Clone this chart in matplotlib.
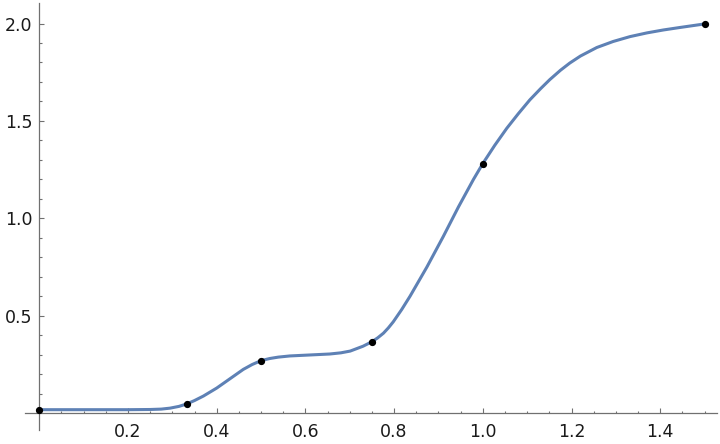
import matplotlib
matplotlib.use("Agg")
import matplotlib.pyplot as plt

# Data points (black dots)
point_x = [0.0, 1/3, 0.5, 0.75, 1.0, 1.5]
point_y = [0.017, 0.047, 0.269, 0.366, 1.281, 1.998]

# Curve samples
curve_x = [0.0, 0.10, 0.20, 0.25, 0.275, 0.295, 0.315, 0.333, 0.350, 0.370,
           0.400, 0.430, 0.460, 0.480, 0.500, 0.520, 0.539, 0.565, 0.610,
           0.655, 0.680, 0.701, 0.730, 0.750, 0.763, 0.776, 0.787, 0.798,
           0.817, 0.836, 0.874, 0.911, 0.945, 0.979, 1.000, 1.027, 1.054,
           1.080, 1.106, 1.130, 1.151, 1.175, 1.196, 1.220, 1.257, 1.294,
           1.332, 1.370, 1.407, 1.445, 1.500]
curve_y = [0.017, 0.017, 0.017, 0.018, 0.020, 0.025, 0.034, 0.047, 0.064, 0.087,
           0.128, 0.176, 0.224, 0.249, 0.269, 0.280, 0.287, 0.293, 0.298,
           0.303, 0.309, 0.318, 0.343, 0.366, 0.386, 0.410, 0.437, 0.468,
           0.531, 0.600, 0.750, 0.907, 1.058, 1.200, 1.281, 1.375, 1.462,
           1.537, 1.608, 1.665, 1.712, 1.760, 1.797, 1.833, 1.877, 1.908,
           1.933, 1.952, 1.967, 1.980, 1.998]

x_major = [0.2, 0.4, 0.6, 0.8, 1.0, 1.2, 1.4]
x_labels = ["0.2", "0.4", "0.6", "0.8", "1.0", "1.2", "1.4"]
y_major = [0.5, 1.0, 1.5, 2.0]
y_labels = ["0.5", "1.0", "1.5", "2.0"]
x_minor = [0.05, 0.1, 0.15, 0.25, 0.3, 0.35, 0.45, 0.5, 0.55, 0.65, 0.7, 0.75,
           0.85, 0.9, 0.95, 1.05, 1.1, 1.15, 1.25, 1.3, 1.35, 1.45, 1.5]
y_minor = [0.1, 0.2, 0.3, 0.4, 0.6, 0.7, 0.8, 0.9, 1.1, 1.2, 1.3, 1.4,
           1.6, 1.7, 1.8, 1.9]

fig = plt.figure(figsize=(7.2, 4.44), dpi=100)
ax = fig.add_axes([25/720, 14/444, (717-25)/720, (440.7-14)/444])

ax.plot(curve_x, curve_y, color="#5E81B5", lw=2.2, solid_joinstyle="round",
        solid_capstyle="round", zorder=2)
ax.plot(point_x, point_y, "o", color="black", ms=4.2, zorder=3, clip_on=False)

ax.set_xlim(-0.0322, 1.528)
ax.set_ylim(-0.0873, 2.104)

for s in ["top", "right"]:
    ax.spines[s].set_visible(False)
ax.spines["left"].set_position(("data", 0))
ax.spines["bottom"].set_position(("data", 0))
for s in ["left", "bottom"]:
    ax.spines[s].set_color("#707070")
    ax.spines[s].set_linewidth(0.9)

ax.set_xticks(x_major)
ax.set_xticklabels(x_labels)
ax.set_yticks(y_major)
ax.set_yticklabels(y_labels)
ax.set_xticks(x_minor, minor=True)
ax.set_yticks(y_minor, minor=True)

ax.tick_params(which="both", direction="in", color="#707070", width=0.8,
               labelsize=12.5, labelcolor="#1a1a1a")
ax.tick_params(which="major", length=3.3)
ax.tick_params(which="minor", length=1.8)
ax.tick_params(axis="x", which="major", pad=7)
ax.tick_params(axis="y", which="major", pad=5)

fig.savefig("out.png", dpi=100)
